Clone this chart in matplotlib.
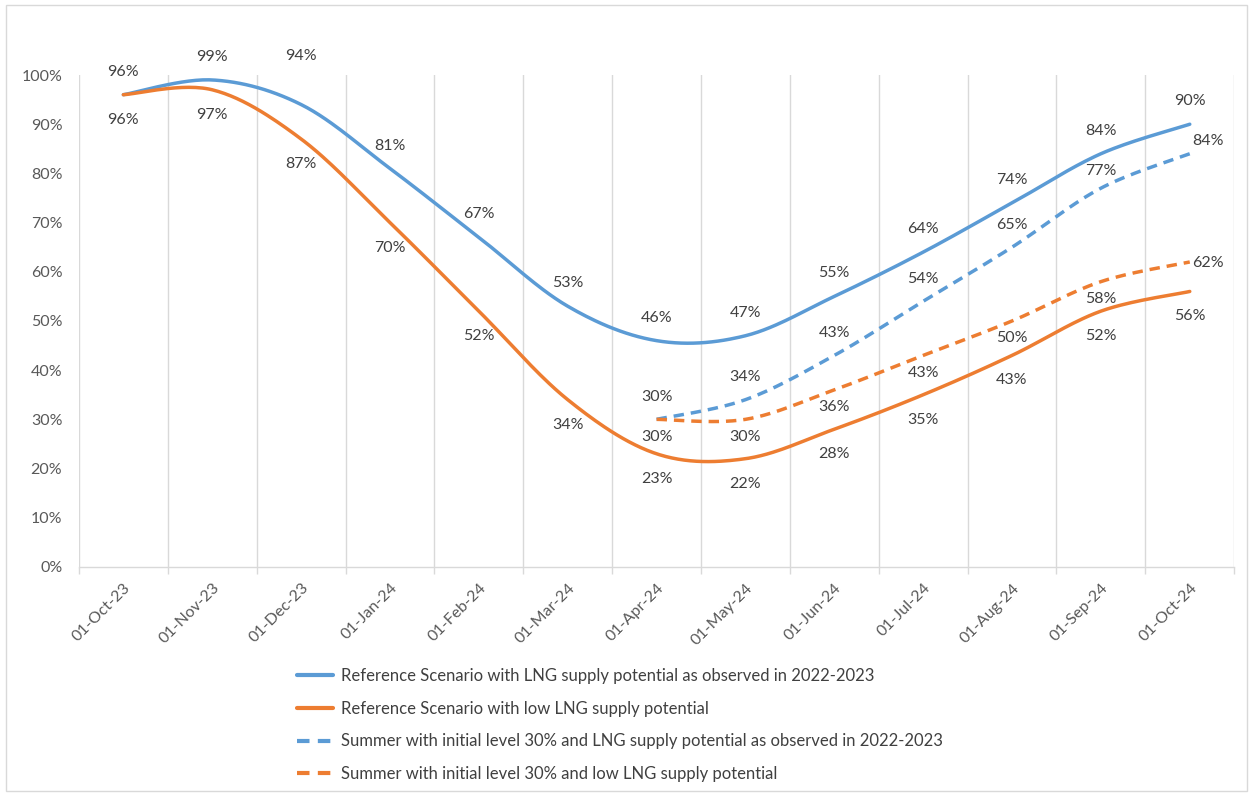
import numpy as np
import matplotlib
matplotlib.use("Agg")
import matplotlib.pyplot as plt
from matplotlib.patches import Rectangle

plt.rcParams["font.family"] = ["Lato", "DejaVu Sans"]

months = ["01-Oct-23", "01-Nov-23", "01-Dec-23", "01-Jan-24", "01-Feb-24", "01-Mar-24", "01-Apr-24",
          "01-May-24", "01-Jun-24", "01-Jul-24", "01-Aug-24", "01-Sep-24", "01-Oct-24"]
ref_obs = [96, 99, 94, 81, 67, 53, 46, 47, 55, 64, 74, 84, 90]
ref_low = [96, 97, 87, 70, 52, 34, 23, 22, 28, 35, 43, 52, 56]
sum_start = 6                                    # summer scenarios start at 01-Apr-24
sum_obs = [30, 34, 43, 54, 65, 77, 84]
sum_low = [30, 30, 36, 43, 50, 58, 62]

labels = ["Reference Scenario with LNG supply potential as observed in 2022-2023",
          "Reference Scenario with low LNG supply potential",
          "Summer with initial level 30% and LNG supply potential as observed in 2022-2023",
          "Summer with initial level 30% and low LNG supply potential"]

BLUE, ORANGE, GRID, TXT = "#5b9bd5", "#ed7d31", "#d9d9d9", "#404040"
FS = 11.5


def smooth(x, y, n=30):
    """Excel-like smoothed line: Catmull-Rom Bezier through the points."""
    p = np.column_stack([x, y]).astype(float)
    ext = np.vstack([p[0], p, p[-1]])
    t = np.linspace(0, 1, n)[:, None]
    out = []
    for i in range(len(p) - 1):
        p0, p1, p2, p3 = ext[i], ext[i + 1], ext[i + 2], ext[i + 3]
        c1 = p1 + (p2 - p0) / 6
        c2 = p2 - (p3 - p1) / 6
        seg = ((1 - t) ** 3) * p1 + 3 * ((1 - t) ** 2) * t * c1 + 3 * (1 - t) * t ** 2 * c2 + t ** 3 * p2
        out.append(seg if i == 0 else seg[1:])
    s = np.vstack(out)
    return s[:, 0], s[:, 1]


fig = plt.figure(figsize=(12.53, 7.94), dpi=100)
ax = fig.add_axes([0.063, 0.286, 0.922, 0.6195])

series = [
    (np.arange(len(ref_obs)), ref_obs, BLUE, "-", 16.5),
    (np.arange(len(ref_low)), ref_low, ORANGE, "-", -18),
    (np.arange(sum_start, sum_start + len(sum_obs)), sum_obs, BLUE, (0, (3, 2)), 16),
    (np.arange(sum_start, sum_start + len(sum_low)), sum_low, ORANGE, (0, (3, 2)), -12.5),
]
handles = []
for (x, y, c, ls, off), lab in zip(series, labels):
    sx, sy = smooth(x, np.array(y) / 100)
    h, = ax.plot(sx, sy, color=c, lw=2.5, ls=ls, solid_capstyle="round", dash_capstyle="butt", label=lab)
    handles.append(h)
    for k, (xi, yi) in enumerate(zip(x, y)):
        dx, dy = 0, off
        if lab == labels[0] and xi == 2:
            dy = 35
        if lab == labels[2] and xi == 11:
            dy = 12.5
        if ls != "-" and k == len(x) - 1:
            dx, dy = 13, (9 if c == BLUE else -1)
        ax.annotate(f"{yi}%", (xi, yi / 100), xytext=(dx, dy), textcoords="offset points",
                    ha="center", va="center", fontsize=FS, color=TXT)

ax.set_xlim(-0.5, len(months) - 0.5)
ax.set_ylim(0, 1)
ax.set_yticks(np.arange(0, 1.01, 0.1))
ax.set_yticklabels([f"{v}%" for v in range(0, 101, 10)])
ax.set_xticks(np.arange(len(months)))
ax.set_xticklabels(months, rotation=45, ha="right", rotation_mode="anchor")
ax.set_xticks(np.arange(-0.5, len(months)), minor=True)
ax.tick_params(axis="x", which="major", length=0, pad=10, labelsize=FS, labelcolor="#595959")
ax.tick_params(axis="x", which="minor", length=5, color=GRID, width=1)
ax.tick_params(axis="y", length=0, pad=12, labelsize=FS, labelcolor="#595959")
ax.grid(axis="x", which="minor", color=GRID, lw=1)
for s in ("top", "right", "left"):
    ax.spines[s].set_visible(False)
ax.spines["bottom"].set_color(GRID)
ax.spines["bottom"].set_linewidth(1)

leg = fig.legend(handles=handles, loc="upper left", bbox_to_anchor=(0.232, 0.167), frameon=False,
                 fontsize=12, labelcolor=TXT, handlelength=2.15, handletextpad=0.45, labelspacing=1.0,
                 borderaxespad=0)
for ln in leg.get_lines():
    ln.set_linewidth(3)

fig.add_artist(Rectangle((0.005, 0.004), 0.99, 0.99, transform=fig.transFigure, fill=False,
                         edgecolor="#d9d9d9", lw=1))
fig.savefig("out.png", dpi=100)
